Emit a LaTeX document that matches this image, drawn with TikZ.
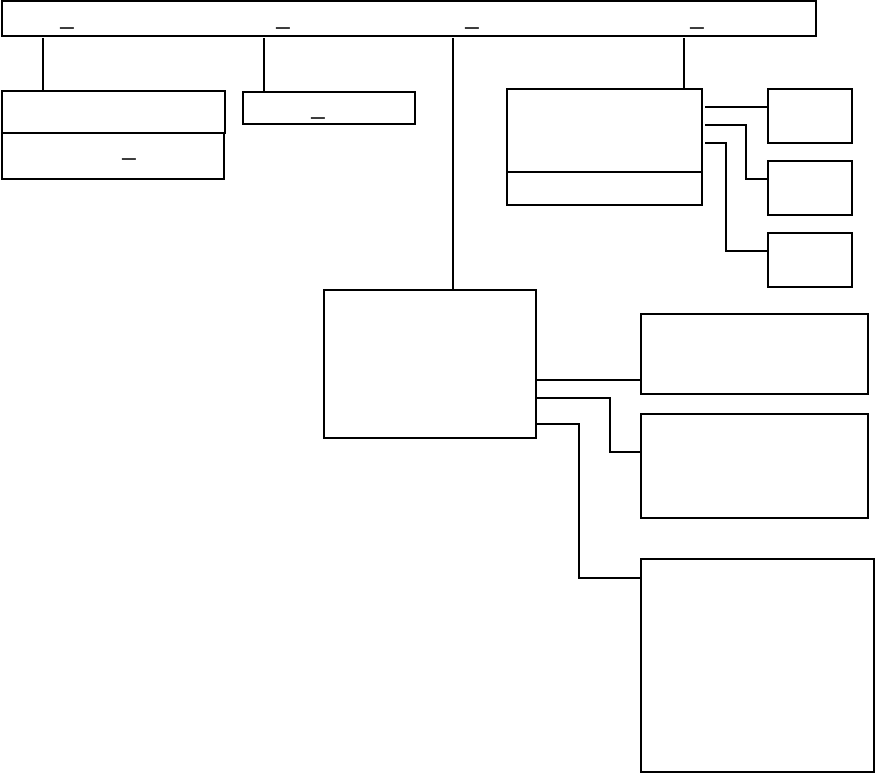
\documentclass[tikz,border=0pt]{standalone}
\usepackage{fontspec}
\setmainfont{Liberation Sans}
\usetikzlibrary{fit}
\tikzset{
  box/.style={draw, line width=1.5pt, inner sep=0pt},
  thinbox/.style={draw, line width=1pt, inner sep=0pt},
  link/.style={draw, line width=0.8pt},
  boldlink/.style={draw, line width=1.6pt},
  gap/.style={font=\fontsize{18}{20}\selectfont, inner sep=0pt, anchor=base},
}
\begin{document}
\begin{tikzpicture}[x=0.75pt, y=-0.75pt]
\useasboundingbox (0,0) rectangle (875,773);
% top bar
\node[thinbox, fit={(2,1) (816,36)}] (root) {};
\node[gap] (r1) at (67,25) {\_};
\node[gap] (r2) at (283,25) {\_};
\node[gap] (r3) at (472,25) {\_};
\node[gap] (r4) at (697,25) {\_};
% left column
\node[box, fit={(2,91) (225,133)}] (left) {};
\node[box, fit={(2,133) (224,179)}] (leftsub) {};
\node[gap] at (129,156) {\_};
\node[box, fit={(243,92) (415,124)}] (mid) {};
\node[gap] at (318,115) {\_};
% right group
\node[thinbox, fit={(507,89) (702,205)}] (grp) {};
\draw[line width=1pt] (507,172) -- (702,172);
\node[box, fit={(768,89) (852,143)}] (s1) {};
\node[box, fit={(768,161) (852,215)}] (s2) {};
\node[box, fit={(768,233) (852,287)}] (s3) {};
% centre and branches
\node[box, fit={(324,290) (536,438)}] (core) {};
\node[box, fit={(641,314) (868,394)}] (b1) {};
\node[box, fit={(641,414) (868,518)}] (b2) {};
\node[box, fit={(641,559) (874,772)}] (b3) {};
% connectors
\draw[link] (43,38) -- (left.north -| 43,0);
\draw[boldlink] (264,38) -- (mid.north -| 264,0);
\draw[boldlink] (453,38) -- (core.north -| 453,0);
\draw[boldlink] (684,38) -- (grp.north -| 684,0);
\draw[boldlink] (705,107) -- (s1.west |- 0,107);
\draw[boldlink] (705,125) -| (746,179) -- (s2.west |- 0,179);
\draw[boldlink] (705,143) -| (726,251) -- (s3.west |- 0,251);
\draw[link] (core.east |- 0,380) -- (b1.west |- 0,380);
\draw[link] (core.east |- 0,398) -| (610,452) -- (b2.west |- 0,452);
\draw[boldlink] (core.east |- 0,424) -| (579,578) -- (b3.west |- 0,578);
\end{tikzpicture}
\end{document}
